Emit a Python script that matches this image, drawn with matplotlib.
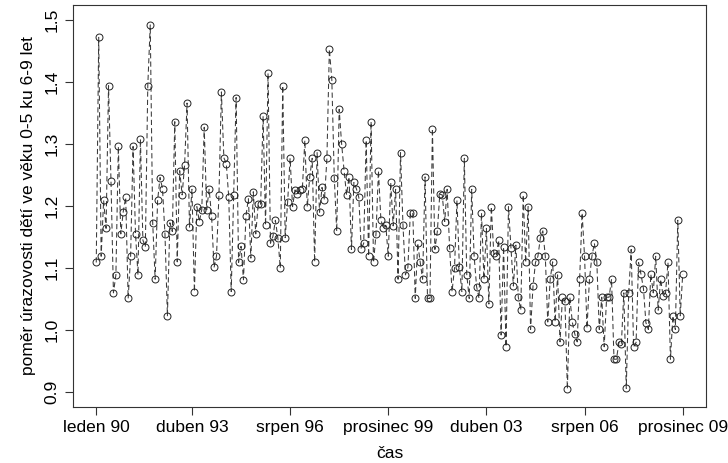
import matplotlib
matplotlib.use("Agg")
import matplotlib.pyplot as plt
import numpy as np

# monthly ratio, leden 1990 .. prosinec 2009 (240 months)
ratio_90_91 = [1.109, 1.472, 1.119, 1.209, 1.164, 1.394, 1.241, 1.060, 1.089, 1.296,
               1.155, 1.191, 1.214, 1.051, 1.119, 1.296, 1.155, 1.089, 1.308, 1.145,
               1.134, 1.394, 1.492, 1.173]
ratio_92_93 = [1.082, 1.209, 1.246, 1.228, 1.155, 1.023, 1.173, 1.159, 1.336, 1.110,
               1.257, 1.218, 1.266, 1.366, 1.166, 1.227, 1.062, 1.199, 1.175, 1.194,
               1.327, 1.194, 1.227, 1.184]
ratio_94_95 = [1.101, 1.119, 1.218, 1.384, 1.278, 1.268, 1.214, 1.062, 1.218, 1.375,
               1.109, 1.135, 1.081, 1.184, 1.212, 1.116, 1.223, 1.155, 1.203, 1.203,
               1.345, 1.169, 1.414, 1.140]
ratio_96_97 = [1.151, 1.177, 1.149, 1.100, 1.394, 1.149, 1.207, 1.277, 1.199, 1.226,
               1.220, 1.226, 1.228, 1.306, 1.199, 1.247, 1.277, 1.110, 1.286, 1.190,
               1.230, 1.210, 1.277, 1.453]
ratio_98_99 = [1.404, 1.246, 1.159, 1.356, 1.300, 1.257, 1.218, 1.247, 1.130, 1.238,
               1.228, 1.214, 1.130, 1.140, 1.306, 1.119, 1.336, 1.109, 1.155, 1.257,
               1.178, 1.164, 1.169, 1.119]
ratio_00_01 = [1.238, 1.168, 1.227, 1.082, 1.286, 1.169, 1.089, 1.101, 1.189, 1.189,
               1.051, 1.140, 1.110, 1.082, 1.247, 1.051, 1.051, 1.325, 1.130, 1.159,
               1.219, 1.218, 1.175, 1.227]
ratio_02_03 = [1.133, 1.062, 1.100, 1.209, 1.101, 1.062, 1.277, 1.089, 1.051, 1.227,
               1.119, 1.070, 1.051, 1.189, 1.082, 1.164, 1.042, 1.199, 1.124, 1.119,
               1.145, 0.992, 1.134, 0.973]
ratio_04_05 = [1.199, 1.133, 1.071, 1.137, 1.053, 1.032, 1.218, 1.109, 1.199, 1.001,
               1.071, 1.109, 1.119, 1.149, 1.160, 1.119, 1.013, 1.082, 1.110, 1.013,
               1.089, 0.981, 1.053, 1.047]
ratio_06_07 = [0.905, 1.053, 1.013, 0.994, 0.981, 1.082, 1.189, 1.119, 1.003, 1.082,
               1.119, 1.140, 1.110, 1.001, 1.053, 0.973, 1.053, 1.053, 1.082, 0.953,
               0.953, 0.980, 0.977, 1.060]
ratio_08_09 = [0.906, 1.060, 1.130, 0.973, 0.980, 1.109, 1.090, 1.067, 1.012, 1.001,
               1.090, 1.060, 1.119, 1.032, 1.082, 1.055, 1.060, 1.109, 0.953, 1.023,
               1.001, 1.177, 1.023, 1.090]

ratio = (ratio_90_91 + ratio_92_93 + ratio_94_95 + ratio_96_97 + ratio_98_99 +
         ratio_00_01 + ratio_02_03 + ratio_04_05 + ratio_06_07 + ratio_08_09)
months = np.arange(1, len(ratio) + 1)

tick_pos = [1, 40, 80, 120, 160, 200, 240]
tick_labels = ["leden 90", "duben 93", "srpen 96", "prosinec 99",
               "duben 03", "srpen 06", "prosinec 09"]
y_ticks = [0.9, 1.0, 1.1, 1.2, 1.3, 1.4, 1.5]

plt.rcParams["font.family"] = ["Liberation Sans", "DejaVu Sans"]

fig = plt.figure(figsize=(7.28, 4.63), dpi=100)
ax = fig.add_axes([0.100, 0.121, 0.870, 0.868])

# dashed line plus open circles, like R type="b"
ax.plot(months, ratio, color="#3a3a3a", linestyle=(0, (5, 3)), linewidth=0.75,
        marker="o", markersize=5, markerfacecolor="none",
        markeredgecolor="#222222", markeredgewidth=0.7)

pad_x = (months[-1] - months[0]) * 0.04
ax.set_xlim(months[0] - pad_x, months[-1] + pad_x)
ax.set_ylim(0.876, 1.524)

ax.set_xticks(tick_pos)
ax.set_xticklabels(tick_labels, fontsize=12.5)
ax.set_yticks(y_ticks)
ax.set_yticklabels([f"{v:.1f}" for v in y_ticks], fontsize=12.5,
                   rotation=90, va="center")
ax.tick_params(length=6, width=0.8, color="#333333")

for side in ax.spines.values():
    side.set_linewidth(0.8)
    side.set_color("#333333")

ax.set_xlabel("čas", fontsize=12.5, labelpad=8)
ax.set_ylabel("poměr úrazovosti dětí ve věku 0-5 ku 6-9 let", fontsize=12.5,
              labelpad=6)

fig.savefig("out.png", dpi=100)
